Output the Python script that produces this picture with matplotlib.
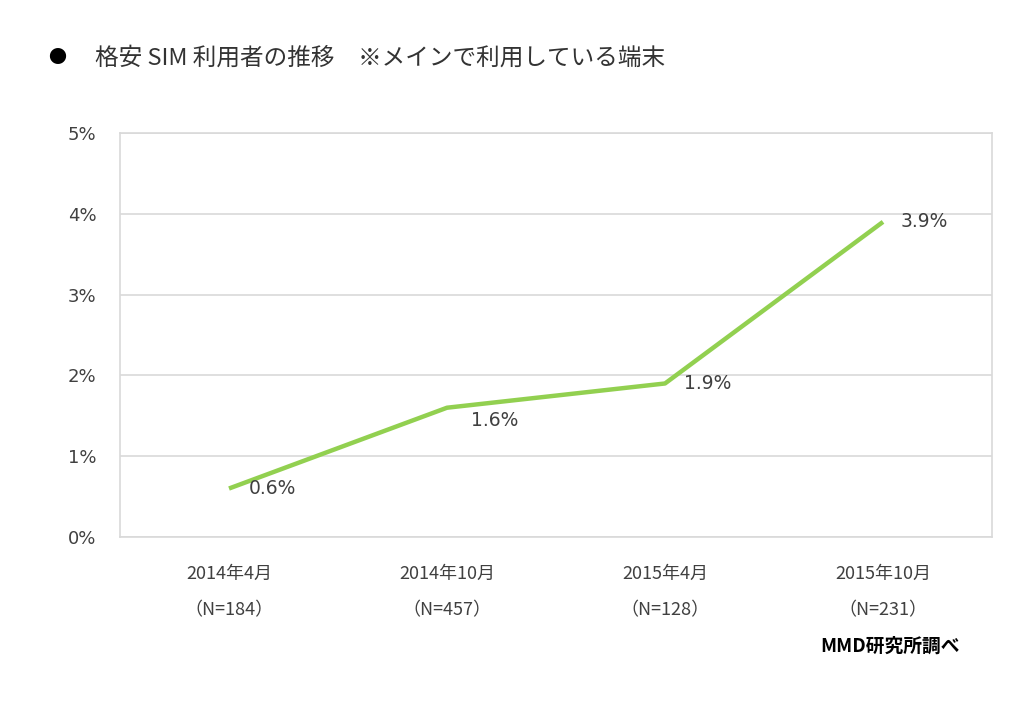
import matplotlib
matplotlib.use('Agg')
import matplotlib.pyplot as plt

plt.rcParams['font.family'] = ['Noto Sans CJK JP', 'DejaVu Sans']

periods = ['2014年4月', '2014年10月', '2015年4月', '2015年10月']
samples = ['（N=184）', '（N=457）', '（N=128）', '（N=231）']
share = [0.6, 1.6, 1.9, 3.9]
labels = ['0.6%', '1.6%', '1.9%', '3.9%']
yticks = [0, 1, 2, 3, 4, 5]

txt = '#404040'
num_font = ['DejaVu Sans']
fig = plt.figure(figsize=(10.24, 7.01), dpi=100)
ax = fig.add_axes([120/1024, 1-537/701, 872/1024, 404/701])

x = list(range(len(periods)))
ax.plot(x, share, color='#92d050', lw=3.2, solid_capstyle='butt')

# data labels: offsets in points (right, down)
offs = [(14.5, 0), (17, -9.5), (14, 0), (13, 0)]
for xi, v, lab, (dx, dy) in zip(x, share, labels, offs):
    ax.annotate(lab, (xi, v), xytext=(dx, dy), textcoords='offset points',
                ha='left', va='center', fontsize=13.5, color=txt, family=num_font)

ax.set_xlim(-0.5, 3.5)
ax.set_ylim(0, 5)
ax.set_yticks(yticks)
ax.set_yticklabels([f'{t}%' for t in yticks], fontsize=13, color=txt, family=num_font)
ax.set_xticks(x)
ax.set_xticklabels([f'{p}\n\n{s}' for p, s in zip(periods, samples)],
                   fontsize=13, color=txt, linespacing=1.0)
ax.tick_params(axis='x', length=0, pad=20)
ax.tick_params(axis='y', length=0, pad=17)
ax.grid(axis='y', color='#d9d9d9', lw=1.2)
ax.set_axisbelow(True)
for s in ax.spines.values():
    s.set_color('#d9d9d9')
    s.set_linewidth(1.2)

fig.text(57/1024, 1-58/701, '●', fontsize=13, color='black', va='center', ha='center')
fig.text(95/1024, 1-58/701, '格安 SIM 利用者の推移　※メインで利用している端末',
         fontsize=17, color='#333333', va='center', ha='left')
fig.text(820/1024, 1-646/701, 'MMD研究所調べ', fontsize=13.5, fontweight='bold',
         color='black', va='center', ha='left')

fig.savefig('out.png', dpi=100)
